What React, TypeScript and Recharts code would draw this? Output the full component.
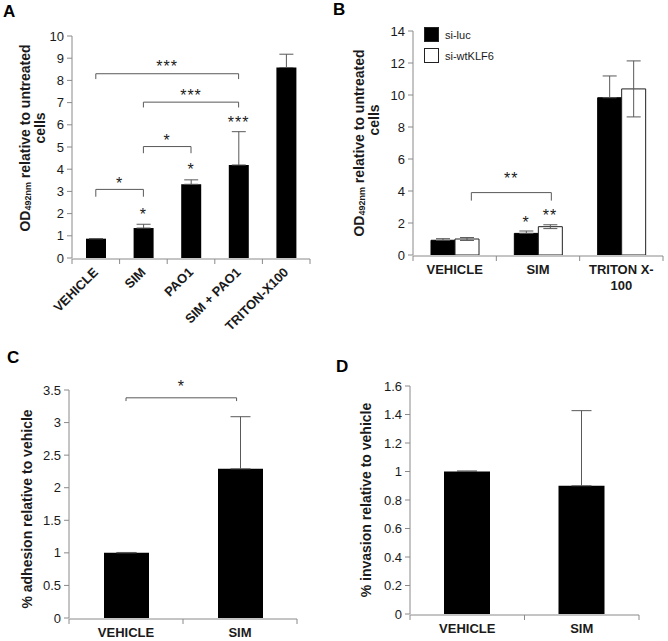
import React from 'react';
import { BarChart, Bar, XAxis, YAxis, ErrorBar, ReferenceLine, ReferenceDot, Legend } from 'recharts';

const FONT = '"Liberation Sans", Arial, Helvetica, sans-serif';
const AXIS = '#8a8a8a';
const INK = '#1a1a1a';
const ERR = '#595959';
const BRK = '#595959';

// ---------- Panel A ----------
const categoriesA = ['VEHICLE', 'SIM', 'PAO1', 'SIM + PAO1', 'TRITON-X100'];
const valuesA = [0.87, 1.35, 3.32, 4.19, 8.58];
const errorsA = [0, 0.17, 0.2, 1.5, 0.6];
const ticksA = [0, 1, 2, 3, 4, 5, 6, 7, 8, 9, 10];
const bracketsA = [
  { from: 0.5, to: 1.5, y: 3.09, tip: 2.76, text: '*', textY: 3.49 },
  { from: 1.5, to: 2.5, y: 5.02, tip: 4.72, text: '*', textY: 5.43 },
  { from: 1.5, to: 3.5, y: 7.02, tip: 6.78, text: '***', textY: 7.46 },
  { from: 0.5, to: 3.5, y: 8.3, tip: 8.06, text: '***', textY: 8.78 },
];
const starsA = [
  { x: 1.5, y: 2.09, text: '*' },
  { x: 2.5, y: 4.12, text: '*' },
  { x: 3.5, y: 6.22, text: '***' },
];

// ---------- Panel B ----------
const categoriesB = ['VEHICLE', 'SIM', 'TRITON X-100'];
const seriesNamesB = ['si-luc', 'si-wtKLF6'];
const siLuc = [0.92, 1.35, 9.83];
const siLucErr = [0.1, 0.15, 1.36];
const siKlf = [1.0, 1.77, 10.38];
const siKlfErr = [0.09, 0.12, 1.75];
const ticksB = [0, 2, 4, 6, 8, 10, 12, 14];
const bracketsB = [{ from: 0.7, to: 1.66, y: 3.9, tip: 3.4, text: '**', textY: 5.0 }];
const starsB = [
  { x: 1.356, y: 2.19, text: '*' },
  { x: 1.644, y: 2.67, text: '**' },
];

// ---------- Panel C ----------
const categoriesC = ['VEHICLE', 'SIM'];
const adhesion = [1.0, 2.29];
const adhesionErr = [0.006, 0.8];
const ticksC = [0, 0.5, 1, 1.5, 2, 2.5, 3, 3.5];
const bracketsC = [{ from: 0.5, to: 1.47, y: 3.38, tip: 3.33, text: '*', textY: 3.6 }];

// ---------- Panel D ----------
const categoriesD = ['VEHICLE', 'SIM'];
const invasion = [1.0, 0.9];
const invasionErr = [0.004, 0.527];
const ticksD = [0, 0.2, 0.4, 0.6, 0.8, 1, 1.2, 1.4, 1.6];

const dataA = categoriesA.map((name, i) => ({ name, pos: i + 0.5, value: valuesA[i], err: [0, errorsA[i]] }));
const dataB = categoriesB.map((name, i) => ({
  name,
  pos: i + 0.5,
  luc: siLuc[i],
  lucErr: [0, siLucErr[i]],
  klf: siKlf[i],
  klfErr: siKlfErr[i],
}));
const dataC = categoriesC.map((name, i) => ({ name, pos: i + 0.5, value: adhesion[i], err: [0, adhesionErr[i]] }));
const dataD = categoriesD.map((name, i) => ({ name, pos: i + 0.5, value: invasion[i], err: [0, invasionErr[i]] }));

const boundaryTicks = (n: number) => Array.from({ length: n + 1 }, (_, i) => i);

const noTick = () => <g />;

const starShape = (text: string) => (p: any) => (
  <text
    x={p.cx}
    y={p.cy + 8.5}
    textAnchor="middle"
    fontSize={16}
    letterSpacing={1}
    fill={INK}
    fontFamily={FONT}
  >
    {text}
  </text>
);

const bracketEls = (b: any, key: string) => [
  <ReferenceLine key={key + 'h'} xAxisId="n" ifOverflow="visible" stroke={BRK} strokeWidth={1}
    segment={[{ x: b.from, y: b.y }, { x: b.to, y: b.y }]} />,
  <ReferenceLine key={key + 'l'} xAxisId="n" ifOverflow="visible" stroke={BRK} strokeWidth={1}
    segment={[{ x: b.from, y: b.y }, { x: b.from, y: b.tip }]} />,
  <ReferenceLine key={key + 'r'} xAxisId="n" ifOverflow="visible" stroke={BRK} strokeWidth={1}
    segment={[{ x: b.to, y: b.y }, { x: b.to, y: b.tip }]} />,
  <ReferenceDot key={key + 't'} xAxisId="n" x={(b.from + b.to) / 2} y={b.textY} r={2}
    ifOverflow="visible" shape={starShape(b.text)} />,
];

const starEls = (s: any, key: string) => (
  <ReferenceDot key={key} xAxisId="n" x={s.x} y={s.y} r={2} ifOverflow="visible" shape={starShape(s.text)} />
);

const YTitle = ({ spec }: any) => (
  <g>
    {spec.map((l: any, i: number) => (
      <text
        key={i}
        x={l.x}
        y={l.y}
        transform={`rotate(-90 ${l.x} ${l.y})`}
        textAnchor="middle"
        dominantBaseline="central"
        fontWeight="bold"
        fontSize={14}
        fill={INK}
        fontFamily={FONT}
      >
        {l.sub ? (
          <>
            {l.pre}
            <tspan fontSize={9} dy={3}>{l.sub}</tspan>
            <tspan dy={-3}>{l.post}</tspan>
          </>
        ) : (
          l.text
        )}
      </text>
    ))}
  </g>
);

const RotTick = (props: any) => {
  const { x, y, payload } = props;
  const tx = x + 3;
  const ty = y + 15;
  return (
    <text
      x={tx}
      y={ty}
      transform={`rotate(-45 ${tx} ${ty})`}
      textAnchor="end"
      fontWeight="bold"
      fontSize={13}
      fill={INK}
      fontFamily={FONT}
    >
      {payload.value}
    </text>
  );
};

const FlatTick = (props: any) => {
  const { x, y, payload } = props;
  const v: string = String(payload.value);
  const idx = v.lastIndexOf('-');
  const lines = idx > 0 ? [v.slice(0, idx + 1), v.slice(idx + 1)] : [v];
  return (
    <text x={x} y={y + 19} textAnchor="middle" fontWeight="bold" fontSize={13} fill={INK} fontFamily={FONT}>
      {lines.map((ln, i) => (
        <tspan key={i} x={x} dy={i === 0 ? 0 : 16}>{ln}</tspan>
      ))}
    </text>
  );
};

const LegendB = (props: any) => {
  const { payload } = props;
  return (
    <div style={{ fontFamily: FONT }}>
      {(payload || []).map((p: any, i: number) => (
        <div key={i} style={{ display: 'flex', alignItems: 'center', height: 15, marginBottom: 6 }}>
          <span
            style={{
              display: 'inline-block',
              width: 15,
              height: 15,
              boxSizing: 'border-box',
              background: p.payload?.fill ?? p.color,
              border: '1px solid #222',
            }}
          />
          <span style={{ marginLeft: 6, fontSize: 11, color: INK }}>{p.value}</span>
        </div>
      ))}
    </div>
  );
};

const yTick = { fill: INK, fontSize: 13, fontFamily: FONT };

const NumAxis = (n: number) => (
  <XAxis
    xAxisId="n"
    dataKey="pos"
    type="number"
    domain={[0, n]}
    allowDataOverflow
    ticks={boundaryTicks(n)}
    height={1}
    tickSize={5}
    tick={noTick}
    stroke={AXIS}
  />
);

const CatAxis = (tick: any) => (
  <XAxis dataKey="name" height={1} axisLine={false} tickLine={false} tickSize={0} tickMargin={0}
    interval={0} tick={tick} />
);

function PanelA() {
  return (
    <BarChart width={334} height={345} data={dataA} margin={{ top: 36, right: 24, bottom: 85, left: 0 }}>
      {NumAxis(5)}
      {CatAxis(<RotTick />)}
      <YAxis width={72} domain={[0, 10]} ticks={ticksA} allowDataOverflow tickSize={5} tickMargin={3}
        tick={yTick} stroke={AXIS}
        label={<YTitle spec={[
          { x: 25, y: 138, sub: '492nm', pre: 'OD', post: ' relative to untreated' },
          { x: 40, y: 128, text: 'cells' },
        ]} />} />
      <Bar dataKey="value" fill="#000" barSize={20} isAnimationActive={false}>
        <ErrorBar dataKey="err" width={7} stroke={ERR} strokeWidth={1} direction="y" isAnimationActive={false} />
      </Bar>
      {bracketsA.flatMap((b, i) => bracketEls(b, 'ba' + i))}
      {starsA.map((s, i) => starEls(s, 'sa' + i))}
    </BarChart>
  );
}

function PanelB() {
  return (
    <BarChart width={334} height={320} data={dataB} margin={{ top: 31, right: 5, bottom: 63, left: 0 }}
      barGap={0}>
      {NumAxis(3)}
      {CatAxis(<FlatTick />)}
      <YAxis width={79} domain={[0, 14]} ticks={ticksB} allowDataOverflow tickSize={5} tickMargin={3}
        tick={yTick} stroke={AXIS}
        label={<YTitle spec={[
          { x: 25, y: 143, sub: '492nm', pre: 'OD', post: ' relative to untreated' },
          { x: 40, y: 120, text: 'cells' },
        ]} />} />
      <Legend layout="vertical" align="center" verticalAlign="middle" content={<LegendB />}
        wrapperStyle={{ position: 'absolute', left: 90, top: 27, width: 'auto', height: 'auto' }} />
      <Bar dataKey="luc" name={seriesNamesB[0]} fill="#000" stroke="#000" barSize={24} isAnimationActive={false}>
        <ErrorBar dataKey="lucErr" width={7} stroke={ERR} strokeWidth={1} direction="y" isAnimationActive={false} />
      </Bar>
      <Bar dataKey="klf" name={seriesNamesB[1]} fill="#ffffff" stroke="#222" strokeWidth={1} barSize={24}
        isAnimationActive={false}>
        <ErrorBar dataKey="klfErr" width={7} stroke={ERR} strokeWidth={1} direction="y" isAnimationActive={false} />
      </Bar>
      {bracketsB.flatMap((b, i) => bracketEls(b, 'bb' + i))}
      {starsB.map((s, i) => starEls(s, 'sb' + i))}
    </BarChart>
  );
}

function PanelC() {
  return (
    <BarChart width={334} height={321} data={dataC} margin={{ top: 70, right: 37, bottom: 21, left: 0 }}>
      {NumAxis(2)}
      {CatAxis(<FlatTick />)}
      <YAxis width={69} domain={[0, 3.5]} ticks={ticksC} allowDataOverflow tickSize={5} tickMargin={3}
        tick={yTick} stroke={AXIS}
        label={<YTitle spec={[{ x: 27, y: 189, text: '% adhesion relative to vehicle' }]} />} />
      <Bar dataKey="value" fill="#000" barSize={45} isAnimationActive={false}>
        <ErrorBar dataKey="err" width={10} stroke={ERR} strokeWidth={1} direction="y" isAnimationActive={false} />
      </Bar>
      {bracketsC.flatMap((b, i) => bracketEls(b, 'bc' + i))}
    </BarChart>
  );
}

function PanelD() {
  return (
    <BarChart width={334} height={321} data={dataD} margin={{ top: 66, right: 29, bottom: 25, left: 0 }}>
      {NumAxis(2)}
      {CatAxis(<FlatTick />)}
      <YAxis width={76} domain={[0, 1.6]} ticks={ticksD} allowDataOverflow tickSize={5} tickMargin={3}
        tick={yTick} stroke={AXIS}
        label={<YTitle spec={[{ x: 32, y: 180, text: '% invasion relative to vehicle' }]} />} />
      <Bar dataKey="value" fill="#000" barSize={46} isAnimationActive={false}>
        <ErrorBar dataKey="err" width={10} stroke={ERR} strokeWidth={1} direction="y" isAnimationActive={false} />
      </Bar>
    </BarChart>
  );
}

export default function App() {
  return (
    <div
      style={{
        position: 'absolute',
        left: 0,
        top: 0,
        width: 668,
        height: 641,
        background: '#fff',
        overflow: 'hidden',
        fontFamily: FONT,
      }}
    >
      <div style={{ position: 'absolute', left: 334, top: 0 }}><PanelB /></div>
      <div style={{ position: 'absolute', left: 0, top: 320 }}><PanelC /></div>
      <div style={{ position: 'absolute', left: 334, top: 320 }}><PanelD /></div>
      <div style={{ position: 'absolute', left: 0, top: 0 }}><PanelA /></div>
      <svg width={668} height={641} style={{ position: 'absolute', left: 0, top: 0, pointerEvents: 'none' }}>
        <g fontFamily={FONT} fontWeight="bold" fontSize={17} fill="#000">
          <text x={3} y={17}>A</text>
          <text x={333} y={15}>B</text>
          <text x={7} y={363}>C</text>
          <text x={336} y={372}>D</text>
        </g>
      </svg>
    </div>
  );
}
